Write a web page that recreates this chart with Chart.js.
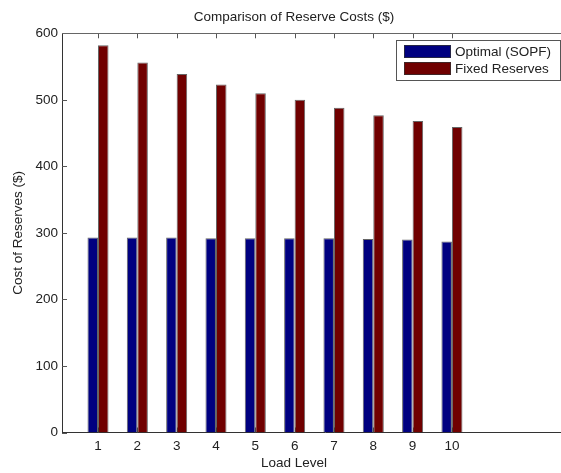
<!DOCTYPE html>
<html>
<head>
<meta charset="utf-8">
<script src="https://cdn.jsdelivr.net/npm/chart.js@4.4.1/dist/chart.umd.min.js"></script>
<style>
html, body { margin: 0; padding: 0; background: #fff; overflow: hidden; }
#wrap { width: 588px; height: 473px; }
</style>
</head>
<body>
<div id="wrap"><canvas id="reserve-costs" width="588" height="473"></canvas></div>
<script>
const levels = [1, 2, 3, 4, 5, 6, 7, 8, 9, 10]
const optimal = [293, 293, 293, 292, 292, 292, 292, 291, 290, 287]
const fixedReserves = [582, 556, 539, 523, 510, 500, 488, 477, 468, 459]
const yTicks = [0, 100, 200, 300, 400, 500, 600]
const seriesNames = ['Optimal (SOPF)', 'Fixed Reserves']

const colors = {
	blue: '#000080',
	red: '#700000',
	edge: 'rgba(50,50,50,0.75)',
	axis: '#333',
	text: '#222'
}
const font = { family: '"Liberation Sans", Arial, Helvetica, sans-serif', size: 13.5, weight: 'normal' }

// matlab-ish axes: inward ticks, top edge and a boxed legend in the corner
const matlabAxes = {
	id: 'matlabAxes',
	beforeDatasetsDraw(chart) {
		const {ctx, chartArea: a, scales: {x, y}} = chart
		ctx.save()
		ctx.strokeStyle = '#555'
		ctx.lineWidth = 1
		ctx.beginPath()
		levels.forEach((v) => {
			const px = Math.round(x.getPixelForValue(v)) + 0.5
			ctx.moveTo(px, a.top)
			ctx.lineTo(px, a.top + 5)
			ctx.moveTo(px, a.bottom)
			ctx.lineTo(px, a.bottom - 5)
		})
		yTicks.forEach((v) => {
			const py = Math.round(y.getPixelForValue(v)) + 0.5
			ctx.moveTo(a.left, py)
			ctx.lineTo(a.left + 5, py)
		})
		ctx.stroke()
		ctx.strokeStyle = '#666'
		ctx.beginPath()
		ctx.moveTo(a.left, Math.round(a.top) + 0.5)
		ctx.lineTo(a.right, Math.round(a.top) + 0.5)
		ctx.stroke()
		ctx.restore()
	},
	afterDraw(chart) {
		const ctx = chart.ctx
		ctx.save()
		ctx.fillStyle = '#fff'
		ctx.fillRect(396.5, 40.5, 164, 40)
		ctx.strokeStyle = '#555'
		ctx.lineWidth = 1
		ctx.strokeRect(396.5, 40.5, 164, 40)
		ctx.font = font.size + 'px ' + font.family
		ctx.textBaseline = 'middle'
		chart.data.datasets.forEach((ds, i) => {
			const top = 45 + i * 17
			ctx.fillStyle = ds.backgroundColor
			ctx.fillRect(404, top, 47, 13)
			ctx.strokeStyle = colors.edge
			ctx.strokeRect(404.5, top + 0.5, 46, 12)
			ctx.fillStyle = colors.text
			ctx.fillText(ds.label, 455, top + 7)
		})
		ctx.restore()
	}
}

const chart = new Chart('reserve-costs', {
	type: 'bar',
	data: {
		datasets: [
			{
				label: seriesNames[0],
				data: levels.map((l, i) => ({x: l, y: optimal[i]})),
				backgroundColor: colors.blue,
				borderColor: colors.edge,
				borderWidth: 1
			},
			{
				label: seriesNames[1],
				data: levels.map((l, i) => ({x: l, y: fixedReserves[i]})),
				backgroundColor: colors.red,
				borderColor: colors.edge,
				borderWidth: 1
			}
		]
	},
	options: {
		responsive: false,
		animation: false,
		devicePixelRatio: 1,
		categoryPercentage: 0.535,
		barPercentage: 1,
		layout: { padding: 0 },
		plugins: {
			legend: { display: false },
			tooltip: { enabled: false },
			title: {
				display: true,
				text: 'Comparison of Reserve Costs ($)',
				color: colors.text,
				font: font,
				padding: { top: 9.4, bottom: 7.7 }
			},
			// x label as a bottom subtitle so it centres like the original
			subtitle: {
				display: true,
				position: 'bottom',
				text: 'Load Level',
				color: colors.text,
				font: { ...font, lineHeight: 1 },
				padding: { top: -3, bottom: 3 }
			}
		},
		scales: {
			x: {
				type: 'linear',
				offset: false,
				min: 0.085,
				max: 13.46,
				afterBuildTicks: (scale) => {
					scale.ticks = levels.map((v) => ({value: v}))
				},
				grid: { display: false, drawTicks: false },
				border: { display: true, color: colors.axis, width: 1 },
				ticks: { padding: 5.4, color: colors.text, font: font, maxRotation: 0 }
			},
			y: {
				min: 0,
				max: 600,
				afterBuildTicks: (scale) => {
					scale.ticks = yTicks.map((v) => ({value: v}))
				},
				grid: { display: false, drawTicks: false },
				border: { display: true, color: colors.axis, width: 1 },
				ticks: { padding: 4, color: colors.text, font: font },
				title: {
					display: true,
					text: 'Cost of Reserves ($)',
					color: colors.text,
					font: font,
					padding: { top: 9.9, bottom: 5.4 }
				}
			}
		}
	},
	plugins: [matlabAxes]
})
</script>
</body>
</html>
